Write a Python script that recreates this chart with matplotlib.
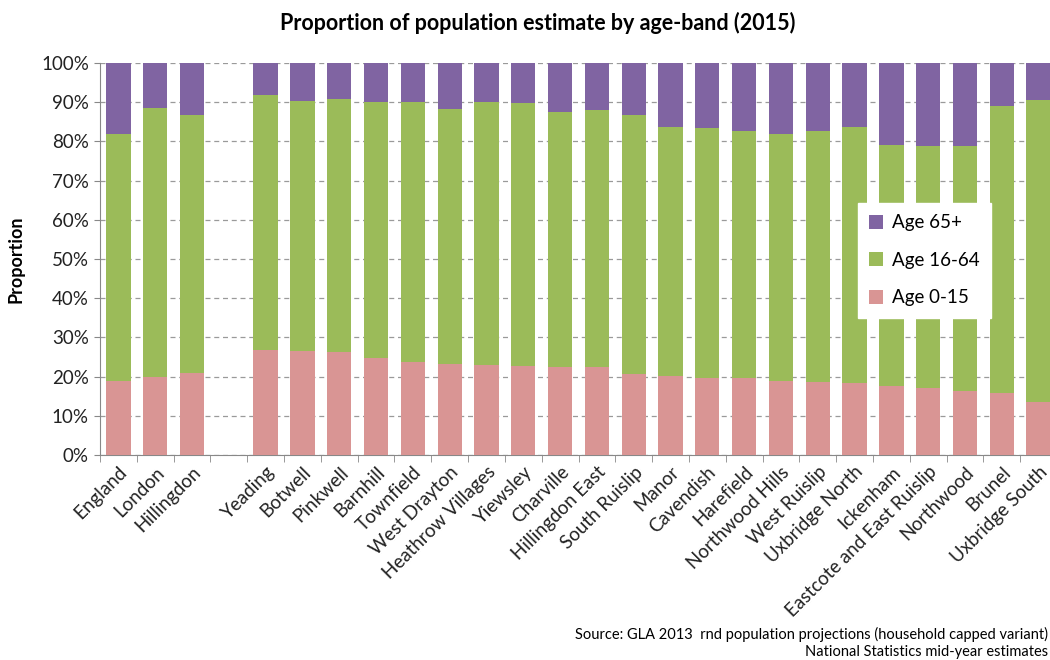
import matplotlib
matplotlib.use('Agg')
import matplotlib.pyplot as plt
import numpy as np

plt.rcParams['font.family'] = ['Lato', 'DejaVu Sans']

areas = ['England', 'London', 'Hillingdon', '',
         'Yeading', 'Botwell', 'Pinkwell', 'Barnhill', 'Townfield',
         'West Drayton', 'Heathrow Villages', 'Yiewsley', 'Charville',
         'Hillingdon East', 'South Ruislip', 'Manor', 'Cavendish',
         'Harefield', 'Northwood Hills', 'West Ruislip', 'Uxbridge North',
         'Ickenham', 'Eastcote and East Ruislip', 'Northwood', 'Brunel',
         'Uxbridge South']

# proportions (%); the blank slot is 0
age_0_15 = [18.8, 19.8, 20.9, 0,
            26.8, 26.5, 26.2, 24.7, 23.8, 23.3, 23.0, 22.7, 22.4, 22.4,
            20.7, 20.2, 19.6, 19.6, 18.8, 18.6, 18.3, 17.5, 17.2, 16.2,
            15.8, 13.6]
age_16_64 = [63.1, 68.7, 65.8, 0,
             65.0, 63.9, 64.7, 65.4, 66.3, 65.0, 67.1, 67.2, 65.1, 65.6,
             66.0, 63.6, 63.9, 63.1, 63.2, 64.1, 65.5, 61.5, 61.5, 62.5,
             73.3, 77.0]
age_65 = [18.1, 11.5, 13.3, 0,
          8.2, 9.6, 9.1, 9.9, 9.9, 11.7, 9.9, 10.1, 12.5, 12.0,
          13.3, 16.2, 16.5, 17.3, 18.0, 17.3, 16.2, 21.0, 21.3, 21.3,
          10.9, 9.4]

c_young = '#D99594'
c_work = '#9BBB59'
c_old = '#8064A2'

fig = plt.figure(figsize=(10.5, 6.6), dpi=100)
ax = fig.add_axes([100/1050, 1-455/660, 957/1050, 392/660])

x = np.arange(len(areas))
y0 = np.array(age_0_15) / 100
y1 = np.array(age_16_64) / 100
y2 = np.array(age_65) / 100
w = 0.66
b0 = ax.bar(x, y0, w, color=c_young, label='Age 0-15', zorder=3)
b1 = ax.bar(x, y1, w, bottom=y0, color=c_work, label='Age 16-64', zorder=3)
b2 = ax.bar(x, y2, w, bottom=y0+y1, color=c_old, label='Age 65+', zorder=3)

ax.set_xlim(-0.5, len(areas)-0.5)
ax.set_ylim(0, 1)
ax.set_yticks(np.arange(0, 1.01, 0.1))
ax.set_yticklabels(['%d%%' % v for v in range(0, 101, 10)], fontsize=13.5, color='#222222')
ax.yaxis.grid(True, linestyle=(0, (4, 3)), color='#9a9a9a', linewidth=0.9, zorder=0)

ax.set_xticks(x)
ax.set_xticklabels(areas, rotation=45, ha='right', rotation_mode='anchor', fontsize=13.5, color='#222222')
ax.tick_params(axis='x', length=0, pad=6)
ax.set_xticks(np.arange(-0.5, len(areas)), minor=True)
ax.tick_params(axis='x', which='minor', length=5, color='#888888')
ax.tick_params(axis='y', length=4, color='#888888', pad=4)

for s in ['top', 'right']:
    ax.spines[s].set_visible(False)
ax.spines['left'].set_color('#888888')
ax.spines['bottom'].set_color('#888888')

ax.set_ylabel('Proportion', fontsize=13, fontweight='bold', labelpad=12)

fig.text(0.512, 0.965, 'Proportion of population estimate by age-band (2015)',
         ha='center', va='center', fontsize=15.5, fontweight='bold')

handles = [b2, b1, b0]
leg = ax.legend(handles, [h.get_label() for h in handles],
                loc='upper left', bbox_to_anchor=(858/1050, 1-203/660),
                bbox_transform=fig.transFigure, frameon=True, fancybox=False,
                edgecolor='white', framealpha=1, fontsize=13.5,
                handlelength=0.75, handleheight=0.75, labelspacing=1.1,
                borderpad=0.6, handletextpad=0.45, borderaxespad=0)
leg.set_zorder(5)

fig.text(1048/1050, 1-634/660, 'Source: GLA 2013  rnd population projections (household capped variant)',
         ha='right', va='center', fontsize=10.5)
fig.text(1048/1050, 1-652/660, 'National Statistics mid-year estimates',
         ha='right', va='center', fontsize=10.5)

fig.savefig('out.png', dpi=100)
